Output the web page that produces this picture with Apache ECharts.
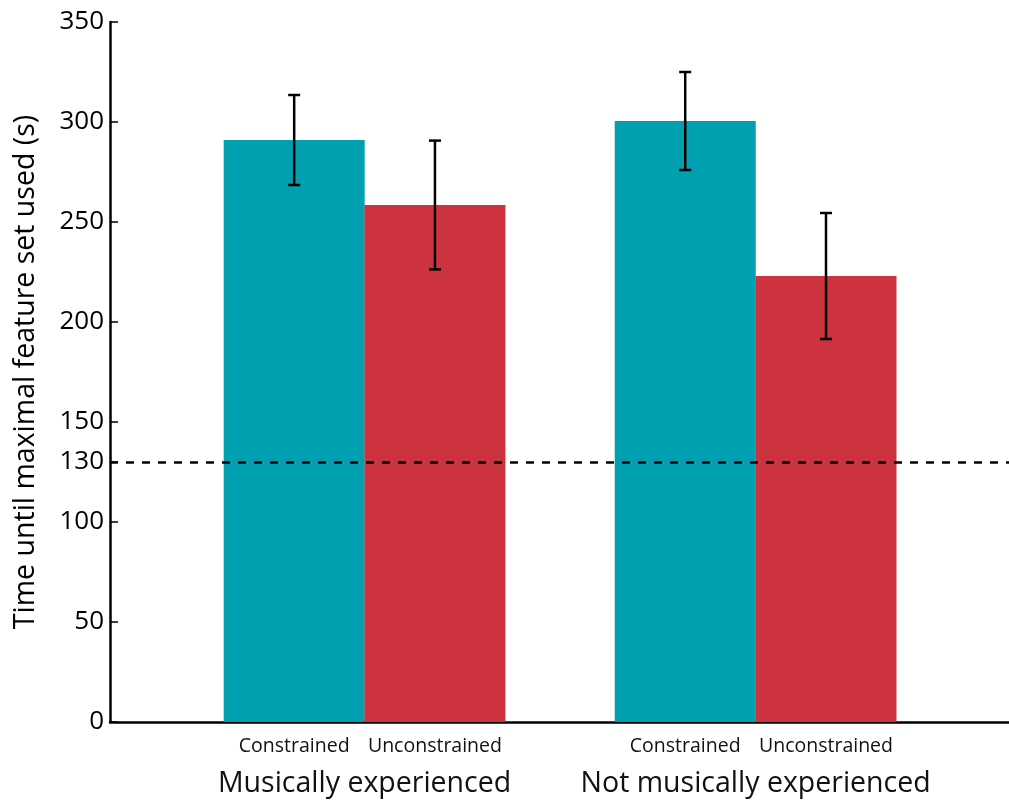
<!DOCTYPE html>
<html>
<head>
<meta charset="utf-8">
<script src="https://cdn.jsdelivr.net/npm/echarts@6/dist/echarts.min.js"></script>
<style>
  html, body { margin: 0; padding: 0; background: #fff; }
  #chart { width: 1009px; height: 801px; }
</style>
</head>
<body>
<div id="chart"></div>
<script>
// Groups and conditions
const groups = ['Musically experienced', 'Not musically experienced'];
const conditions = ['Constrained', 'Unconstrained'];
// Mean time (s) per group, one array per condition
const constrainedMean = [291, 300.5];
const unconstrainedMean = [258.5, 223];
// Error half-widths (s)
const constrainedErr = [22.5, 24.5];
const unconstrainedErr = [32.2, 31.5];
// Y tick values and reference level
const yTicks = [0, 50, 100, 130, 150, 200, 250, 300, 350];
const refLevel = 130;

// Group i sits at x = i + 1; conditions are offset to either side
const groupPos = groups.map((g, i) => i + 1);
const condOffset = [-0.18, 0.18];
const xMin = 0.349, xMax = 2.648;

const colors = ['#00A0B0', '#CC333F'];
const means = [constrainedMean, unconstrainedMean];
const errs = [constrainedErr, unconstrainedErr];

const condPos = [];
const condName = {};
groupPos.forEach(g => condOffset.forEach((o, k) => {
  const v = +(g + o).toFixed(3);
  condPos.push(v);
  condName[v] = conditions[k];
}));
const groupName = {};
groupPos.forEach((g, i) => { groupName[g] = groups[i]; });

const barSeries = conditions.map((c, k) => ({
  name: c,
  type: 'bar',
  xAxisIndex: 0,
  barWidth: 141,
  barGap: '-100%',
  itemStyle: { color: colors[k] },
  z: 2,
  data: groupPos.map((g, i) => [g + condOffset[k], means[k][i]])
}));

const errData = [];
conditions.forEach((c, k) => groupPos.forEach((g, i) => {
  errData.push([g + condOffset[k], means[k][i] - errs[k][i], means[k][i] + errs[k][i]]);
}));

const errorSeries = {
  type: 'custom',
  xAxisIndex: 0,
  z: 5,
  data: errData,
  renderItem: function (params, api) {
    const x = api.value(0);
    const lo = api.coord([x, api.value(1)]);
    const hi = api.coord([x, api.value(2)]);
    const hw = 6;
    const style = { stroke: '#000', lineWidth: 2.5 };
    return {
      type: 'group',
      children: [
        { type: 'line', shape: { x1: lo[0], y1: lo[1], x2: hi[0], y2: hi[1] }, style },
        { type: 'line', shape: { x1: lo[0] - hw, y1: lo[1], x2: lo[0] + hw, y2: lo[1] }, style },
        { type: 'line', shape: { x1: hi[0] - hw, y1: hi[1], x2: hi[0] + hw, y2: hi[1] }, style }
      ]
    };
  }
};

const refSeries = {
  type: 'line',
  xAxisIndex: 0,
  data: [],
  silent: true,
  markLine: {
    symbol: 'none',
    silent: true,
    label: { show: false },
    lineStyle: { color: '#000', type: [8, 8], width: 2.5 },
    data: [{ yAxis: refLevel }],
    z: 6
  }
};

const chart = echarts.init(document.getElementById('chart'), null, { renderer: 'canvas' });
chart.setOption({
  animation: false,
  backgroundColor: '#fff',
  grid: { left: 110, right: 0, top: 22, bottom: 79, containLabel: false },
  xAxis: [
    {
      type: 'value',
      min: xMin,
      max: xMax,
      splitLine: { show: false },
      axisLine: { show: true, onZero: false, lineStyle: { color: '#000', width: 2.5 } },
      axisTick: { show: false },
      axisLabel: {
        customValues: condPos,
        formatter: v => condName[+v.toFixed(3)] || '',
        color: '#111',
        fontFamily: 'Open Sans',
        fontSize: 19.5,
        margin: 14
      }
    },
    {
      type: 'value',
      position: 'bottom',
      min: xMin,
      max: xMax,
      splitLine: { show: false },
      axisLine: { show: false },
      axisTick: { show: false },
      axisLabel: {
        customValues: groupPos,
        formatter: v => groupName[v] || '',
        color: '#111',
        fontFamily: 'Open Sans',
        fontSize: 28.5,
        margin: 47
      }
    }
  ],
  yAxis: {
    type: 'value',
    min: 0,
    max: 350,
    interval: 50,
    splitLine: { show: false },
    axisLine: { show: true, lineStyle: { color: '#000', width: 2.5 } },
    axisTick: { show: true, inside: true, length: 8, customValues: yTicks, lineStyle: { color: '#000', width: 1.5 } },
    axisLabel: {
      customValues: yTicks,
      color: '#000',
      fontFamily: 'Open Sans',
      fontSize: 26,
      margin: 6
    },
    name: 'Time until maximal feature set used (s)',
    nameLocation: 'middle',
    nameRotate: 90,
    nameGap: 70,
    nameTextStyle: { color: '#000', fontFamily: 'Open Sans', fontSize: 28.5 }
  },
  series: [...barSeries, errorSeries, refSeries]
});
</script>
</body>
</html>
